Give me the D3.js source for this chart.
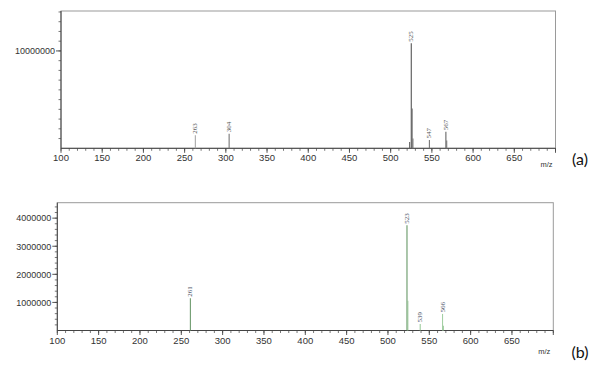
<!DOCTYPE html>
<html>
<head>
<meta charset="utf-8">
<script src="https://cdn.jsdelivr.net/npm/d3@7"></script>
<style>
  body { margin: 0; background: #fff; }
  svg { display: block; font-family: "Liberation Sans", Arial, sans-serif; }
</style>
</head>
<body>
<svg id="chart" width="600" height="369"></svg>
<script>
"use strict";

// panel (a)
var mzA = [263, 304, 523, 525, 526, 527, 547, 567, 568];
var intensityA = [1350000, 1500000, 650000, 10800000, 4100000, 1000000, 850000, 1700000, 800000];
var labeledA = [263, 304, 525, 547, 567];
var colorA = ["#a8a8a8", "#777", "#666", "#555", "#666", "#777", "#777", "#666", "#777"];
var yTicksA = [10000000];

// panel (b)
var mzB = [261, 523, 524, 539, 566, 567];
var intensityB = [1150000, 3750000, 1060000, 230000, 590000, 170000];
var labeledB = [261, 523, 539, 566];
var colorB = ["#6f9c6f", "#669866", "#97c497", "#9ccb9c", "#a4cfa4", "#9ccb9c"];
var yTicksB = [1000000, 2000000, 3000000, 4000000];

var xMajor = d3.range(100, 701, 50);
var xMinor = d3.range(100, 701, 10);

var svg = d3.select("#chart");

function drawPanel(opt) {
  var x = d3.scaleLinear().domain([100, 700]).range([opt.left, opt.right]);
  var y = d3.scaleLinear().domain([0, opt.yMax]).range([opt.bottom, opt.top]);
  var g = svg.append("g");

  // frame
  g.append("rect")
    .attr("x", opt.left).attr("y", opt.top)
    .attr("width", opt.right - opt.left).attr("height", opt.bottom - opt.top)
    .attr("fill", "none").attr("stroke", "#9a9a9a").attr("stroke-width", 1);

  // x axis: minor + major ticks
  g.selectAll("line.xminor").data(xMinor).enter().append("line")
    .attr("x1", x).attr("x2", x)
    .attr("y1", opt.bottom).attr("y2", opt.bottom + 2.5)
    .attr("stroke", "#555").attr("stroke-width", 0.8);
  g.selectAll("line.xmajor").data(xMajor).enter().append("line")
    .attr("x1", x).attr("x2", x)
    .attr("y1", opt.bottom).attr("y2", opt.bottom + 4.5)
    .attr("stroke", "#444").attr("stroke-width", 0.9);
  g.selectAll("text.xlab").data(xMajor.filter(function (d) { return d < 700; }))
    .enter().append("text")
    .attr("x", x).attr("y", opt.bottom + 13)
    .attr("text-anchor", "middle")
    .attr("font-size", 9.5).attr("fill", "#333")
    .text(function (d) { return d; });

  // y axis: minor + major ticks
  var minor = d3.range(opt.yMinorStep, opt.yMax, opt.yMinorStep);
  g.selectAll("line.yminor").data(minor).enter().append("line")
    .attr("x1", opt.left - 2.5).attr("x2", opt.left)
    .attr("y1", y).attr("y2", y)
    .attr("stroke", "#555").attr("stroke-width", 0.8);
  g.selectAll("line.ymajor").data(opt.yTicks).enter().append("line")
    .attr("x1", opt.left - 5).attr("x2", opt.left)
    .attr("y1", y).attr("y2", y)
    .attr("stroke", "#444").attr("stroke-width", 0.9);
  g.selectAll("text.ylab").data(opt.yTicks).enter().append("text")
    .attr("x", opt.left - 6).attr("y", function (d) { return y(d) + 3.3; })
    .attr("text-anchor", "end")
    .attr("font-size", 9).attr("fill", "#333")
    .text(function (d) { return d; });

  // axis lines
  g.append("line")
    .attr("x1", opt.left).attr("x2", opt.right)
    .attr("y1", opt.bottom).attr("y2", opt.bottom)
    .attr("stroke", "#444").attr("stroke-width", 1);
  g.append("line")
    .attr("x1", opt.left).attr("x2", opt.left)
    .attr("y1", opt.top).attr("y2", opt.bottom)
    .attr("stroke", "#444").attr("stroke-width", 1);

  // peaks
  var peaks = opt.mz.map(function (m, i) {
    return { mz: m, v: opt.values[i], c: opt.colors[i] };
  });
  g.selectAll("line.peak").data(peaks).enter().append("line")
    .attr("x1", function (d) { return x(d.mz); })
    .attr("x2", function (d) { return x(d.mz); })
    .attr("y1", opt.bottom)
    .attr("y2", function (d) { return y(d.v); })
    .attr("stroke", function (d) { return d.c; })
    .attr("stroke-width", 1.1);

  g.selectAll("text.peak").data(peaks.filter(function (d) {
      return opt.labeled.indexOf(d.mz) >= 0;
    }))
    .enter().append("text")
    .attr("transform", function (d) {
      return "translate(" + (x(d.mz) + 2) + "," + (y(d.v) - 1.5) + ") rotate(-90)";
    })
    .attr("font-family", "'Liberation Serif', 'DejaVu Serif', serif")
    .attr("font-size", 7).attr("fill", opt.labelColor)
    .text(function (d) { return d.mz; });

  g.append("text")
    .attr("x", opt.right - 9).attr("y", opt.bottom + opt.mzOffset)
    .attr("text-anchor", "middle")
    .attr("font-size", 7.5).attr("fill", "#333")
    .text("m/z");

  g.append("text")
    .attr("x", 580).attr("y", opt.bottom + opt.tagOffset)
    .attr("text-anchor", "middle")
    .attr("font-family", "Lato, 'Open Sans', sans-serif")
    .attr("font-size", 16).attr("fill", "#111")
    .text(opt.tag);
}

drawPanel({
  left: 61, right: 555.5, top: 11, bottom: 148.3,
  yMax: 14100000, yMinorStep: 1000000, yTicks: yTicksA,
  mz: mzA, values: intensityA, colors: colorA, labeled: labeledA,
  labelColor: "#555", mzOffset: 19, tagOffset: 17, tag: "(a)"
});

drawPanel({
  left: 57.3, right: 553.3, top: 202.7, bottom: 330.5,
  yMax: 4550000, yMinorStep: 200000, yTicks: yTicksB,
  mz: mzB, values: intensityB, colors: colorB, labeled: labeledB,
  labelColor: "#4a5266", mzOffset: 23, tagOffset: 27, tag: "(b)"
});
</script>
</body>
</html>
